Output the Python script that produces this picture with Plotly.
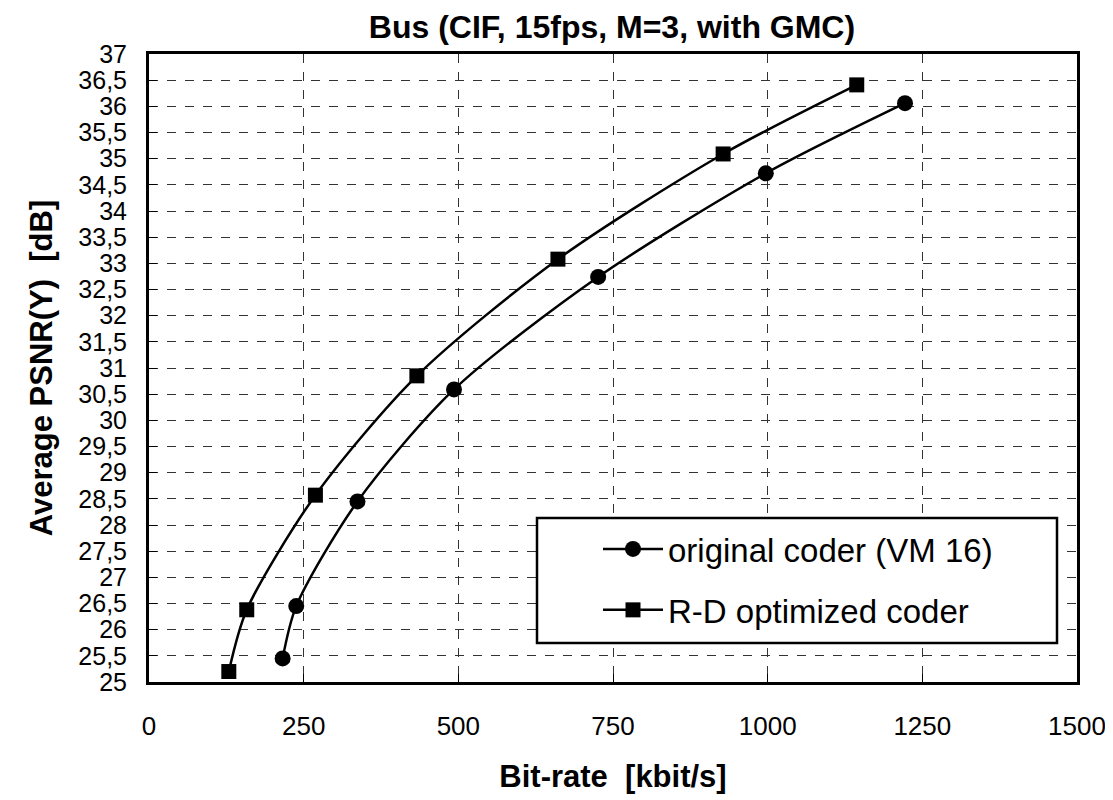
import plotly.graph_objects as go

orig_x = [216, 238, 337, 493, 726, 997, 1222]
orig_y = [25.45, 26.45, 28.45, 30.59, 32.74, 34.72, 36.06]
rd_x = [129, 158, 269, 433, 661, 928, 1144]
rd_y = [25.2, 26.38, 28.57, 30.85, 33.08, 35.09, 36.41]

x_ticks = [0, 250, 500, 750, 1000, 1250, 1500]
y_ticks = [25 + 0.5 * i for i in range(25)]
y_labels = [(f"{v:g}").replace(".", ",") for v in y_ticks]

FONT = "Liberation Sans, Arial, sans-serif"

fig = go.Figure()
fig.add_trace(go.Scatter(
    x=orig_x, y=orig_y, mode="lines+markers", name="original coder (VM 16)",
    line=dict(color="black", width=2.5, shape="spline", smoothing=0.8),
    marker=dict(symbol="circle", size=16, color="black"),
    legendgroup="a"))
fig.add_trace(go.Scatter(
    x=rd_x, y=rd_y, mode="lines+markers", name="R-D optimized coder",
    line=dict(color="black", width=2.5, shape="spline", smoothing=0.8),
    marker=dict(symbol="square", size=15, color="black"),
    legendgroup="b"))

# legend frame
fig.add_shape(type="rect", xref="paper", yref="paper",
              x0=(537 - 149) / 928, x1=(1057 - 149) / 928,
              y0=(682 - 643) / 628, y1=(682 - 518) / 628,
              line=dict(color="black", width=2.5), fillcolor="white", layer="above")

fig.update_layout(
    width=1113, height=800,
    margin=dict(l=141, r=44, t=46, b=126),
    paper_bgcolor="white", plot_bgcolor="white",
    font=dict(family=FONT, color="black", size=25),
    title=dict(text="<b>Bus (CIF, 15fps, M=3, with GMC)</b>", x=(612 - 8) / 1113,
               xanchor="center", y=1 - 19 / 800, yanchor="middle",
               font=dict(family=FONT, size=32, color="black")),
    showlegend=True,
    legend=dict(x=(598 - 149) / 928, y=(682 - 521) / 628, xanchor="left", yanchor="top",
                bgcolor="rgba(0,0,0,0)", borderwidth=0,
                font=dict(family=FONT, size=33, color="black"),
                tracegroupgap=15, itemwidth=60),
    xaxis=dict(range=[0, 1500], tickvals=x_ticks, ticktext=[str(v) for v in x_ticks],
               showline=True, linecolor="black", linewidth=3, mirror=True,
               ticks="inside", ticklen=8, tickcolor="black", tickwidth=1,
               showgrid=True, gridcolor="#333", gridwidth=1, griddash="dash",
               zeroline=False, tickfont=dict(size=26), ticklabelstandoff=19,
               title=dict(text="<b>Bit-rate  [kbit/s]</b>", font=dict(size=31), standoff=26)),
    yaxis=dict(range=[25, 37], tickvals=y_ticks, ticktext=y_labels,
               showline=True, linecolor="black", linewidth=3, mirror=True,
               ticks="inside", ticklen=8, tickcolor="black", tickwidth=1,
               showgrid=True, gridcolor="#333", gridwidth=1, griddash="dash",
               zeroline=False, tickfont=dict(size=25), ticklabelstandoff=14,
               title=dict(text="<b>Average PSNR(Y)  [dB]</b>", font=dict(size=31), standoff=17)),
)

fig.write_html("out.html")
